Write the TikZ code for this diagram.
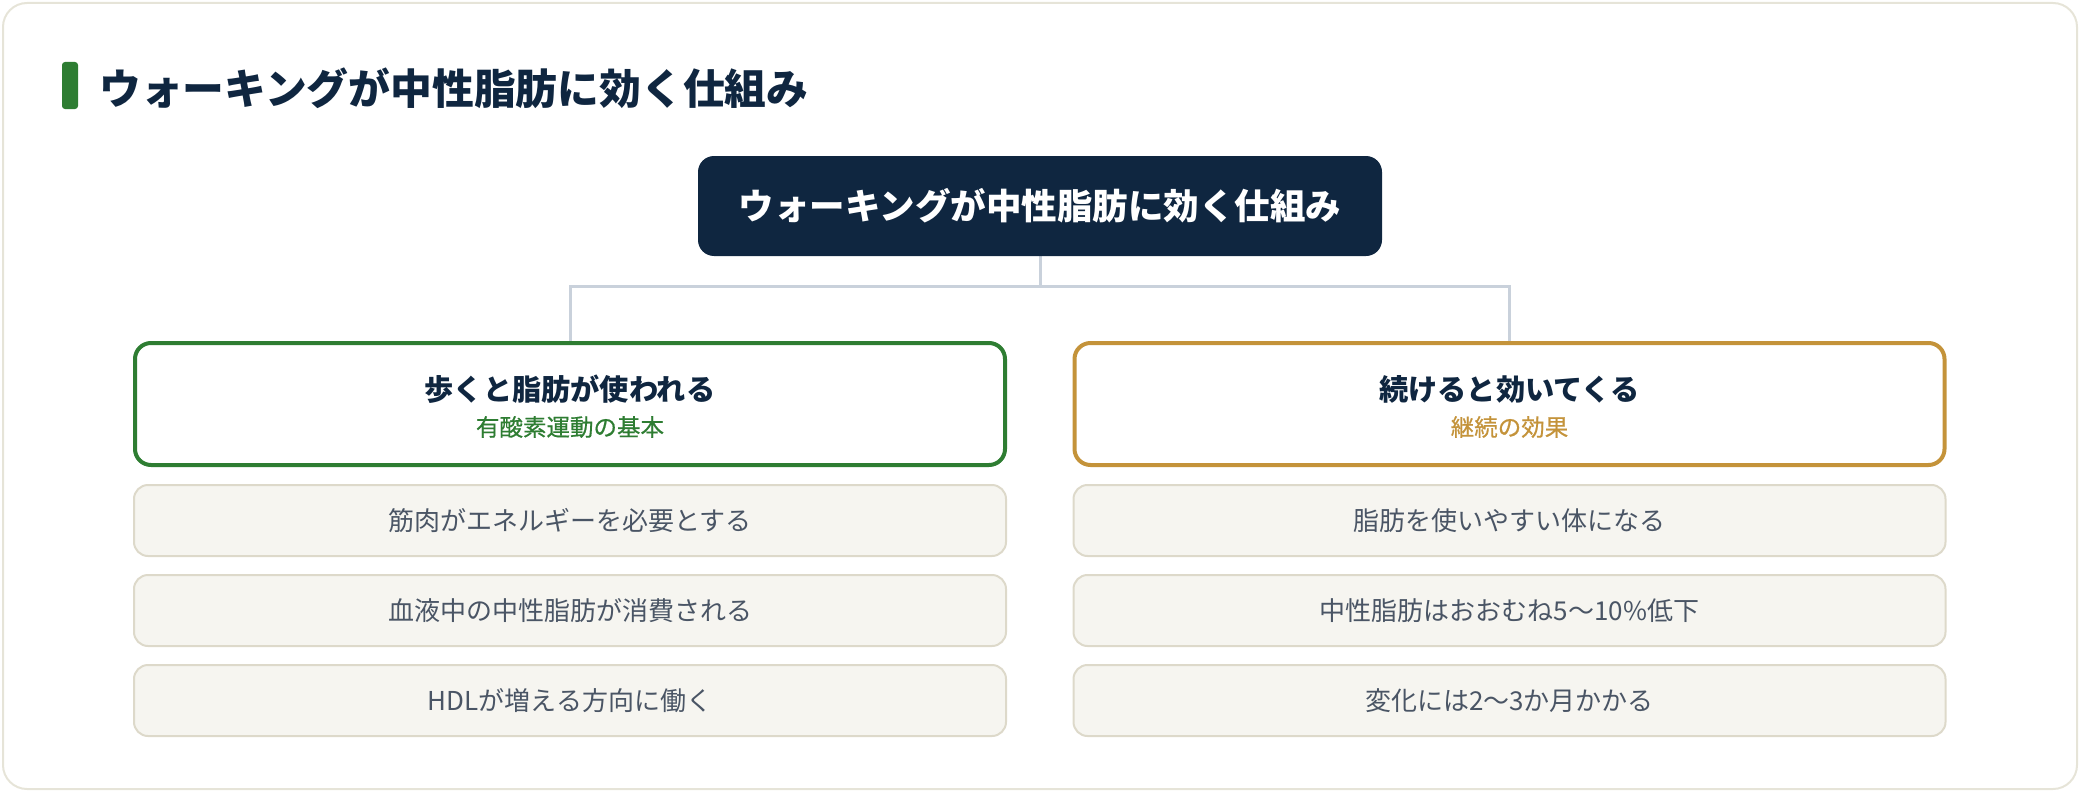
\documentclass[tikz,border=0pt]{standalone}
\usepackage{fontspec}
\newfontfamily\jp{Noto Sans CJK JP}
\newfontfamily\jpmed[FakeBold=0.6]{Noto Sans CJK JP}
\usetikzlibrary{positioning, backgrounds}

\definecolor{navy}{HTML}{0F2640}
\definecolor{walkgreen}{HTML}{2E7D32}
\definecolor{keepgold}{HTML}{C4933A}
\definecolor{itemfill}{HTML}{F6F5F0}
\definecolor{itemline}{HTML}{DDD9CA}
\definecolor{itemtext}{HTML}{4A5565}
\definecolor{linkgray}{HTML}{C9D1DB}
\definecolor{framegray}{HTML}{E6E4D8}

\begin{document}
\begin{tikzpicture}[x=1pt, y=-1pt,
      node distance=17pt,
      root/.style={fill=navy, rounded corners=16pt, minimum width=684pt, minimum height=100pt, text=white, font={\jp\bfseries\fontsize{35.5}{42}\selectfont}},
      cat/.style={draw=#1, line width=4pt, fill=white, rounded corners=16pt, minimum width=870pt, minimum height=122pt},
      cattitle/.style={inner sep=0pt, text=navy, font={\jp\bfseries\fontsize{29.2}{34}\selectfont}},
      catsub/.style={inner sep=0pt, text=#1, font={\jpmed\fontsize{23.5}{28}\selectfont}},
      item/.style={draw=itemline, line width=2pt, fill=itemfill, rounded corners=14pt, minimum width=872pt, minimum height=71pt, text=itemtext, font={\jp\fontsize{26}{31}\selectfont}},
      link/.style={draw=linkgray, line width=3pt}]
      \useasboundingbox (0,0) rectangle (2080,792);
      % heading
      \fill[walkgreen, rounded corners=3pt] (62,62) rectangle (78,109);
      \node[anchor=west, inner sep=0pt, text=navy, font={\jp\bfseries\fontsize{41.8}{48}\selectfont}] (heading) at (99,88) {ウォーキングが中性脂肪に効く仕組み};

      \node[root] (mech) at (1040,206) {ウォーキングが中性脂肪に効く仕組み};

      % left column
      \node[cat=walkgreen] (walk) at (570,404) {};
      \node[cattitle] (walkTitle) at ([yshift=15pt]walk.center) {歩くと脂肪が使われる};
      \node[catsub=walkgreen] (walkSub) at ([yshift=-23pt]walk.center) {有酸素運動の基本};
      \node[item] (muscle) [below=of walk] {筋肉がエネルギーを必要とする};
      \node[item] (blood) [below=of muscle] {血液中の中性脂肪が消費される};
      \node[item] (hdl) [below=of blood] {HDLが増える方向に働く};

      % right column
      \node[cat=keepgold] (keep) at (1509.5,404) {};
      \node[cattitle] (keepTitle) at ([yshift=15pt]keep.center) {続けると効いてくる};
      \node[catsub=keepgold] (keepSub) at ([yshift=-23pt]keep.center) {継続の効果};
      \node[item] (body) [below=of keep] {脂肪を使いやすい体になる};
      \node[item] (drop) [below=of body] {中性脂肪はおおむね5〜10\%低下};
      \node[item] (months) [below=of drop] {変化には2〜3か月かかる};

      \coordinate (fork) at ([yshift=-30pt]mech.south);
      \begin{scope}[on background layer]
        \draw[framegray, line width=2pt, rounded corners=24pt] (3,3) rectangle (2077,789);
        \draw[link] (mech.south) -- (fork);
        \draw[link] (walk.north) |- (fork) -| (keep.north);
      \end{scope}
\end{tikzpicture}
\end{document}
